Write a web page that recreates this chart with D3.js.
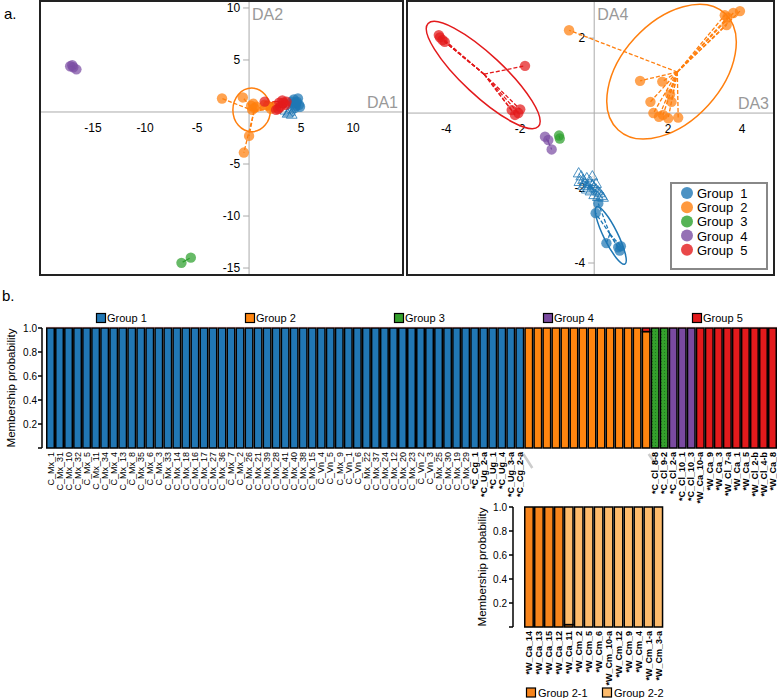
<!DOCTYPE html>
<html><head><meta charset="utf-8">
<script src="https://cdn.jsdelivr.net/npm/d3@7"></script>
<style>body{margin:0;background:#fff} text{font-family:"Liberation Sans",Arial,sans-serif}</style>
</head><body><svg id="c" width="777" height="698"></svg>
<script>
// ---------------- DATA ----------------
const groupNames = ["Group  1","Group  2","Group  3","Group  4","Group  5"];
const barGroupNames = ["Group 1","Group 2","Group 3","Group 4","Group 5"];
const scatterColors = ["#1f77b4","#ff7f0e","#2ca02c","#7b4ea3","#e31a1c"];
const barColors = ["#2177b4","#ff850f","#34a02c","#7a4aa0","#e31a1c"];

// Panel a, left: DA1 x DA2
const leftXTicks = [-15,-10,-5,5,10];
const leftYTicks = [10,5,-5,-10,-15];
const left_g1 = [[4.3,1.2],[4.6,1.0],[4.5,0.6],[4.8,0.7],[4.2,0.8],[4.4,0.4],[4.7,1.3],[4.1,1.0],[4.9,0.5],[4.5,0.9]];
const left_g1_tri = [[3.7,-0.2],[3.9,0.0],[4.1,-0.3],[3.5,0.1],[4.0,0.2],[3.8,-0.1]];
const left_g2 = [[-2.6,1.3],[-0.6,1.4],[0.2,0.6],[0.5,0.4],[0.3,0.2],[0.7,0.5],[1.8,0.6],[2.1,0.3],[1.5,0.7],[2.4,0.5],[0.0,-2.3],[-0.5,-3.9],[0.4,0.8]];
const left_g3 = [[-6.5,-14.5],[-5.6,-14.0]];
const left_g4 = [[-17.2,4.4],[-16.9,4.3],[-16.6,4.1],[-17.0,4.5]];
const left_g5 = [[1.5,1.0],[2.9,0.9],[3.2,1.1],[2.8,0.3],[3.5,0.7],[3.0,0.5],[2.6,0.2],[3.3,0.9],[3.6,1.0]];
// ellipses: [group, x1, y1, x2, y2, minor/major ratio]
const left_ellipses = [[1,0.25,2.3,0.25,-1.9,0.86],[4,2.2,0.85,3.6,0.6,0.35]];

// Panel a, right: DA3 x DA4
const rightXTicks = [-4,-2,2,4];
const rightYTicks = [2,-2,-4];
const right_g1 = [[0.11,-2.41],[0.04,-2.67],[0.33,-3.47],[0.65,-3.58],[0.69,-3.67],[0.72,-3.55]];
const right_g1_tri = [[-0.42,-1.62],[-0.35,-1.7],[-0.3,-1.8],[-0.2,-1.75],[-0.1,-1.85],[-0.25,-1.9],[-0.05,-1.95],[0.0,-2.0],[-0.15,-2.0],[0.05,-2.05],[0.1,-2.1],[0.15,-2.15],[0.2,-2.22],[-0.1,-2.1],[0.0,-2.2],[0.1,-2.25],[-0.2,-2.05],[-0.3,-1.95],[-0.4,-1.85],[0.24,-2.27],[-0.05,-1.7],[0.05,-1.9]];
const right_g2 = [[3.53,2.61],[3.76,2.67],[3.94,2.72],[3.58,2.35],[3.6,2.55],[-0.68,2.21],[1.24,0.86],[1.84,0.84],[1.52,0.30],[2.09,0.30],[1.6,0.0],[1.86,-0.05],[2.0,-0.14],[2.27,-0.12],[1.75,-0.1],[2.05,0.5]];
const right_g3 = [[-0.95,-0.6],[-0.93,-0.68]];
const right_g4 = [[-1.33,-0.63],[-1.24,-0.72],[-1.15,-0.97]];
const right_g5 = [[-4.17,2.02],[-4.2,2.08],[-4.04,1.9],[-4.1,1.95],[-1.87,1.26],[-2.23,0.08],[-2.0,0.1],[-2.14,-0.05],[-2.05,0.0]];
const right_ellipses = [[1,3.53,2.66,0.65,-0.45,0.63],[4,-4.49,2.39,-1.51,-0.36,0.27],[0,0.065,-2.5,0.83,-4.03,0.22]];

// Panel b: membership probabilities
const sampleLabels = ["C_Mx_1","C_Mx_31","C_Mx_10","C_Mx_32","C_Mx_5","C_Mx_11","C_Mx_34","C_Mx_4","C_Mx_13","C_Mx_8","C_Mx_35","C_Mx_6","C_Mx_3","C_Mx_33","C_Mx_14","C_Mx_18","C_Mx_16","C_Mx_17","C_Mx_27","C_Mx_36","C_Mx_7","C_Mx_2","C_Mx_26","C_Mx_21","C_Mx_39","C_Mx_28","C_Mx_41","C_Mx_40","C_Mx_38","C_Mx_15","C_Vn_4","C_Vn_5","C_Mx_9","C_Vn_1","C_Vn_6","C_Mx_22","C_Mx_37","C_Mx_24","C_Mx_12","C_Mx_20","C_Mx_23","C_Vn_2","C_Vn_3","C_Mx_25","C_Mx_30","C_Mx_19","C_Mx_29","*C_Cg_1","*C_Ug_2-a","*C_Ug_1","*C_Ug_4","*C_Ug_3-a","*C_Cg_2-a",
 "","","","","","","","","","","","","","",
 "*C_Cl_8-8","*C_Cl_9-2","*C_Cl_2-a","*C_Cl_10_1","*C_Cl_10_3","*W_Ca_10-a","*W_Ca_9","*W_Ca_3","*W_Cl_7-a","*W_Ca_1","*W_Ca_5","*W_Cl_2-b","*W_Cl_4-b","*W_Ca_8"];
const groupSampleCounts = [53,14,2,3,9];
// mixed memberships: [sample index, [group, prob] ...] (bottom to top)
const mixedSamples = [[66,[[1,0.97],[4,0.03]]]];

// Inset: Group 2 split
const insetLabels = ["*W_Ca_14","*W_Ca_13","*W_Ca_15","*W_Ca_12","*W_Ca_11","*W_Cm_2","*W_Cm_5","*W_Cm_6","*W_Cm_10-a","*W_Cm_12","*W_Cm_9","*W_Cm_4","*W_Cm_1-a","*W_Cm_3-a"];
const inset21 = [1,1,1,1,0.02,0,0,0,0,0,0,0,0,0];
const inset22 = [0,0,0,0,0.98,1,1,1,1,1,1,1,1,1];
const insetNames = ["Group 2-1","Group 2-2"];
const insetColors = ["#f7841b","#fdbb6c"];
const barTicks = [0.2,0.4,0.6,0.8,1.0];

// ---------------- DRAW ----------------
const svg = d3.select("#c");
const defs = svg.append("defs");
const pat = defs.append("pattern").attr("id","gdots").attr("width",3).attr("height",3).attr("patternUnits","userSpaceOnUse");
pat.append("rect").attr("width",3).attr("height",3).attr("fill",barColors[2]);
pat.append("circle").attr("cx",1.5).attr("cy",1.5).attr("r",0.55).attr("fill","#1d6b1d");

svg.append("text").attr("x",4).attr("y",19).attr("font-size",15).text("a.");
svg.append("text").attr("x",2).attr("y",301).attr("font-size",15).text("b.");

function scatter(cfg){
  const x = d3.scaleLinear().domain(cfg.xd).range([cfg.x0, cfg.x1]);
  const y = d3.scaleLinear().domain(cfg.yd).range([cfg.y0, cfg.y1]);
  const g = svg.append("g");
  const ax = x(0), ay = y(0);
  g.append("line").attr("x1",cfg.x0).attr("x2",cfg.x1).attr("y1",ay).attr("y2",ay).attr("stroke","#aaa");
  g.append("line").attr("x1",ax).attr("x2",ax).attr("y1",cfg.y0).attr("y2",cfg.y1).attr("stroke","#aaa");
  cfg.xt.forEach(t=>{
    g.append("text").attr("x",x(t)).attr("y",ay+20).attr("text-anchor","middle").attr("font-size",12).text(t);
  });
  cfg.yt.forEach(t=>{
    g.append("line").attr("x1",ax-6).attr("x2",ax).attr("y1",y(t)).attr("y2",y(t)).attr("stroke","#aaa");
    g.append("text").attr("x",ax-9).attr("y",y(t)+4).attr("text-anchor","end").attr("font-size",12).text(t);
  });
  g.append("text").attr("x",ax+3).attr("y",cfg.y0+19).attr("font-size",16).attr("fill","#999").text(cfg.ylab);
  g.append("text").attr("x",cfg.x1-5).attr("y",ay-4).attr("text-anchor","end").attr("font-size",16).attr("fill","#999").text(cfg.xlab);
  cfg.ell.forEach(e=>{
    const px1=x(e[1]),py1=y(e[2]),px2=x(e[3]),py2=y(e[4]);
    const a=Math.hypot(px2-px1,py2-py1)/2, ang=Math.atan2(py2-py1,px2-px1)*180/Math.PI;
    const cx=(px1+px2)/2, cy=(py1+py2)/2;
    g.append("ellipse").attr("cx",cx).attr("cy",cy).attr("rx",a).attr("ry",a*e[5])
      .attr("transform",`rotate(${ang},${cx},${cy})`).attr("fill","none")
      .attr("stroke",scatterColors[e[0]]).attr("stroke-width",1.5);
  });
  cfg.groups.forEach((pts,gi)=>{
    const cxv=d3.mean(pts,d=>d[0]), cyv=d3.mean(pts,d=>d[1]);
    pts.forEach(p=>{
      g.append("line").attr("x1",x(cxv)).attr("y1",y(cyv)).attr("x2",x(p[0])).attr("y2",y(p[1]))
        .attr("stroke",scatterColors[gi]).attr("stroke-width",1.3).attr("stroke-dasharray","4,2");
    });
  });
  const tcx=d3.mean(cfg.tri,d=>d[0]), tcy=d3.mean(cfg.tri,d=>d[1]);
  cfg.tri.forEach(p=>{
    g.append("line").attr("x1",x(tcx)).attr("y1",y(tcy)).attr("x2",x(p[0])).attr("y2",y(p[1]))
      .attr("stroke",scatterColors[0]).attr("stroke-width",1).attr("stroke-dasharray","3,2");
    g.append("path").attr("d",d3.symbol(d3.symbolTriangle,50)()).attr("transform",`translate(${x(p[0])},${y(p[1])})`)
      .attr("fill","none").attr("stroke",scatterColors[0]).attr("stroke-width",1).attr("opacity",0.8);
  });
  cfg.groups.forEach((pts,gi)=>{
    g.selectAll(null).data(pts).enter().append("circle")
      .attr("cx",d=>x(d[0])).attr("cy",d=>y(d[1])).attr("r",5.2)
      .attr("fill",scatterColors[gi]).attr("fill-opacity",0.72);
  });
  g.append("rect").attr("x",cfg.x0).attr("y",cfg.y0).attr("width",cfg.x1-cfg.x0).attr("height",cfg.y1-cfg.y0)
    .attr("fill","none").attr("stroke","#222").attr("stroke-width",2);
  return {x,y,g};
}

scatter({xd:[-20.1,14.8], yd:[10.67,-15.67], x0:40, x1:403, y0:1, y1:275,
  xt:leftXTicks, yt:leftYTicks, xlab:"DA1", ylab:"DA2",
  groups:[left_g1,left_g2,left_g3,left_g4,left_g5], tri:left_g1_tri, ell:left_ellipses});
scatter({xd:[-5.06,4.86], yd:[2.99,-4.32], x0:407, x1:774, y0:1, y1:275,
  xt:rightXTicks, yt:rightYTicks, xlab:"DA3", ylab:"DA4",
  groups:[right_g1,right_g2,right_g3,right_g4,right_g5], tri:right_g1_tri, ell:right_ellipses});

// legend
const lg = svg.append("g");
lg.append("rect").attr("x",671).attr("y",183).attr("width",96).attr("height",86).attr("fill","#fff").attr("stroke","#888").attr("stroke-width",2);
groupNames.forEach((n,i)=>{
  const yy = 193 + i*14.2;
  lg.append("circle").attr("cx",687).attr("cy",yy).attr("r",6).attr("fill",scatterColors[i]).attr("fill-opacity",0.8);
  lg.append("text").attr("x",697).attr("y",yy+5).attr("font-size",13).attr("xml:space","preserve").style("white-space","pre").text(n);
});

// ---------- panel b bars ----------
const nS = sampleLabels.length;
const xb = d3.scaleBand().domain(d3.range(nS)).range([46,777]).padding(0);
const yb = d3.scaleLinear().domain([0,1]).range([448,328]);
const sampleGroup = [];
groupSampleCounts.forEach((c,gi)=>{ for(let k=0;k<c;k++) sampleGroup.push(gi); });
const segs = [];
sampleGroup.forEach((gi,i)=>{
  const m = mixedSamples.find(d=>d[0]===i);
  const parts = m ? m[1] : [[gi,1]];
  let base = 0;
  parts.forEach(p=>{ segs.push({i, g:p[0], y0:base, y1:base+p[1]}); base+=p[1]; });
});
const bw = xb.bandwidth();
svg.append("g").selectAll("rect").data(segs).enter().append("rect")
  .attr("x",d=>xb(d.i)+0.75).attr("width",bw-1.5)
  .attr("y",d=>yb(d.y1)).attr("height",d=>yb(d.y0)-yb(d.y1))
  .attr("fill",d=>d.g===2?"url(#gdots)":barColors[d.g]).attr("stroke","#000").attr("stroke-width",1.5);
svg.append("line").attr("x1",xb(0)).attr("x2",xb.range()[1]).attr("y1",yb(1)-0.8).attr("y2",yb(1)-0.8)
  .attr("stroke","#e06060").attr("stroke-opacity",0.35).attr("stroke-width",0.8);

// y axis
const ya = svg.append("g");
ya.append("line").attr("x1",42).attr("x2",42).attr("y1",yb(1)).attr("y2",yb(0)).attr("stroke","#000").attr("stroke-width",1.5);
[0].concat(barTicks).forEach(t=>{
  ya.append("line").attr("x1",38).attr("x2",42).attr("y1",yb(t)).attr("y2",yb(t)).attr("stroke","#000").attr("stroke-width",1.5);
});
barTicks.forEach(t=>{
  ya.append("text").attr("x",37).attr("y",yb(t)+3.5).attr("text-anchor","end").attr("font-size",10).text(t.toFixed(1));
});
ya.append("text").attr("transform",`translate(15,${(yb(0)+yb(1))/2}) rotate(-90)`).attr("text-anchor","middle").attr("font-size",11.5).text("Membership probability");

// connectors (behind labels)
const ix0 = xb(53), ix1 = xb(67);
svg.append("line").attr("x1",ix0-1).attr("y1",yb(0)+6).attr("x2",ix0+8).attr("y2",yb(0)+20).attr("stroke","#ccc").attr("stroke-width",2.5);
svg.append("line").attr("x1",ix1-2).attr("y1",yb(0)+6).attr("x2",ix1+5).attr("y2",yb(0)+16).attr("stroke","#ccc").attr("stroke-width",2.5);

// x labels
svg.append("g").selectAll("text").data(sampleLabels).enter().append("text")
  .attr("transform",(d,i)=>`translate(${xb(i)+bw/2+3.2},452) rotate(-90)`)
  .attr("text-anchor","end").attr("font-size",9)
  .attr("font-weight",d=>d.startsWith("*")?"bold":"normal").text(d=>d);

// group legend
barGroupNames.forEach((n,i)=>{
  const lx = 101 + i*149;
  svg.append("rect").attr("x",lx-4.5).attr("y",313.5).attr("width",9).attr("height",9).attr("fill",barColors[i]).attr("stroke","#000").attr("stroke-width",1.2);
  svg.append("text").attr("x",lx+6).attr("y",322).attr("font-size",11).text(n);
});

// ---------- inset ----------
const xi = d3.scaleBand().domain(d3.range(insetLabels.length)).range([524,663.3]).padding(0);
const yi = d3.scaleLinear().domain([0,1]).range([627,507]);
const isegs = [];
insetLabels.forEach((l,i)=>{
  isegs.push({i,c:0,y0:0,y1:inset21[i]});
  isegs.push({i,c:1,y0:inset21[i],y1:inset21[i]+inset22[i]});
});
const ibw = xi.bandwidth();
svg.append("g").selectAll("rect").data(isegs.filter(d=>d.y1>d.y0)).enter().append("rect")
  .attr("x",d=>xi(d.i)+0.75).attr("width",ibw-1.5)
  .attr("y",d=>yi(d.y1)).attr("height",d=>yi(d.y0)-yi(d.y1))
  .attr("fill",d=>insetColors[d.c]).attr("stroke","#000").attr("stroke-width",1.5);
const ia = svg.append("g");
ia.append("line").attr("x1",513).attr("x2",513).attr("y1",yi(1)).attr("y2",yi(0)).attr("stroke","#000").attr("stroke-width",1.5);
[0].concat(barTicks).forEach(t=>{
  ia.append("line").attr("x1",509).attr("x2",513).attr("y1",yi(t)).attr("y2",yi(t)).attr("stroke","#000").attr("stroke-width",1.5);
});
barTicks.forEach(t=>{
  ia.append("text").attr("x",507).attr("y",yi(t)+3.5).attr("text-anchor","end").attr("font-size",10).text(t.toFixed(1));
});
ia.append("text").attr("transform",`translate(486,${(yi(0)+yi(1))/2}) rotate(-90)`).attr("text-anchor","middle").attr("font-size",11.5).text("Membership probability");
svg.append("g").selectAll("text").data(insetLabels).enter().append("text")
  .attr("transform",(d,i)=>`translate(${xi(i)+ibw/2+3.2},631) rotate(-90)`)
  .attr("text-anchor","end").attr("font-size",9).attr("font-weight","bold").text(d=>d);
insetNames.forEach((n,i)=>{
  const lx = 531 + i*76;
  svg.append("rect").attr("x",lx-4.5).attr("y",688).attr("width",9).attr("height",9).attr("fill",insetColors[i]).attr("stroke","#000").attr("stroke-width",1.2);
  svg.append("text").attr("x",lx+7).attr("y",696.5).attr("font-size",11).text(n);
});
</script></body></html>
